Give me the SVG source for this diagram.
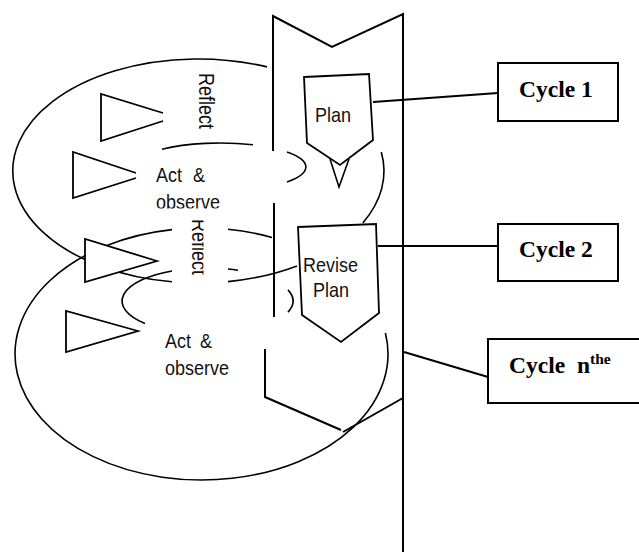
<svg xmlns="http://www.w3.org/2000/svg" width="639" height="554" viewBox="0 0 639 554">
<style>
.ln{fill:none;stroke:#000;stroke-width:1.6;stroke-linecap:butt;stroke-linejoin:miter}
.thick{fill:none;stroke:#000;stroke-width:2}
.wf{fill:#fff;stroke:#000;stroke-width:1.8;stroke-linejoin:miter}
.box{fill:#fff;stroke:#000;stroke-width:2}
.sans{font-family:"Liberation Sans",Arial,sans-serif;font-size:18px;fill:#111}
.serif{font-family:"Liberation Serif","Times New Roman",serif;font-weight:bold;font-size:23.5px;fill:#000}
</style>
<defs>
<clipPath id="clipObs"><rect x="0" y="0" width="639" height="208.5"/></clipPath>
<clipPath id="clipRef2"><rect x="0" y="0" width="203.5" height="554"/></clipPath>
</defs>
<rect width="639" height="554" fill="#fff"/>

<g id="spiral">
  <!-- upper big loop -->
  <path class="ln" d="M267,66.9 A185.5,112 0 1,0 172,281.8"/>
  <path class="ln" d="M228,281.6 A185.5,112 0 0,0 297,265.9"/>
  <path class="ln" d="M381.3,152 A185.5,112 0 0,1 362.8,223"/>
  <!-- lower big loop -->
  <path class="ln" d="M228,229.3 A186.5,126 0 0,1 272,237.4"/>
  <path class="ln" d="M172,229.6 A186.5,126 0 1,0 385.4,333"/>
  <!-- upper inner loop -->
  <path class="ln" d="M162,149.3 A86,24 0 0,1 253,144.8"/>
  <path class="ln" d="M287,152 A86,24 0 0,1 287,182"/>
  <!-- lower inner loop -->
  <path class="ln" d="M172,271 A85.5,33 0 0,0 145,323.5"/>
  <path class="ln" d="M228,269 A85.5,33 0 0,1 238,270.2"/>
  <path class="ln" d="M288,289.9 A85.5,33 0 0,1 288,312.1"/>
  <!-- band -->
  <path class="thick" d="M273,151 L273,16 L332,47 L403,14 L403,552"/>
  <path class="thick" d="M274,203 L274,317"/>
  <path class="thick" d="M265,349 L265,397 L341,430"/>
  <path class="thick" d="M343,432 L403,398"/>
</g>

<g id="arrows">
  <path class="wf" d="M163,113 L101,94 L101,141 L163,121"/>
  <path class="wf" d="M136,173 L73,152 L73,198 L136,178"/>
  <path class="wf" d="M157,261 L85,239 L85,282 Z"/>
  <path class="wf" d="M138,331 L66,311 L66,352 Z"/>
</g>

<g id="labels">
  <text class="sans" transform="translate(199,73) rotate(90) scale(1,1.2)">Reflect</text>
  <g clip-path="url(#clipRef2)">
    <text class="sans" transform="translate(191.5,219) rotate(90) scale(1,1.2)">Reflect</text>
  </g>
  <text class="sans" transform="translate(156,182) scale(1,1.15)" style="word-spacing:6px">Act &amp;</text>
  <g clip-path="url(#clipObs)">
    <text class="sans" transform="translate(156,209) scale(1,1.15)">observe</text>
  </g>
  <text class="sans" transform="translate(165,348) scale(1,1.15)" style="word-spacing:4px">Act &amp;</text>
  <text class="sans" transform="translate(165,375) scale(1,1.15)">observe</text>
</g>

<g id="plan">
  <path class="ln" d="M330,159 L339,187 L349,159"/>
  <path class="wf" d="M304,77 L369,74 L373,140 L340,165 L307,143 Z"/>
  <text class="sans" transform="translate(315,122) scale(1,1.15)">Plan</text>
</g>

<g id="revise-plan">
  <path class="wf" d="M298,227 L376,224 L379,313 L341,342 L302,315 Z"/>
  <text class="sans" transform="translate(303,272) scale(1,1.15)">Revise</text>
  <text class="sans" transform="translate(313,297) scale(1,1.15)">Plan</text>
</g>

<g id="connectors">
  <line class="thick" x1="373" y1="102" x2="498" y2="93"/>
  <line class="thick" x1="378" y1="246" x2="498" y2="246"/>
  <line class="thick" x1="404" y1="352" x2="488" y2="377"/>
</g>

<g id="cycle1">
  <rect class="box" x="498" y="63" width="120" height="58"/>
  <text class="serif" x="519" y="97">Cycle 1</text>
</g>
<g id="cycle2">
  <rect class="box" x="498" y="224" width="120" height="57"/>
  <text class="serif" x="519" y="257">Cycle 2</text>
</g>
<g id="cyclen">
  <rect class="box" x="488" y="339" width="160" height="64"/>
  <text class="serif" x="509" y="373" style="word-spacing:6px">Cycle n<tspan font-size="15.5" dy="-9">the</tspan></text>
</g>
</svg>
